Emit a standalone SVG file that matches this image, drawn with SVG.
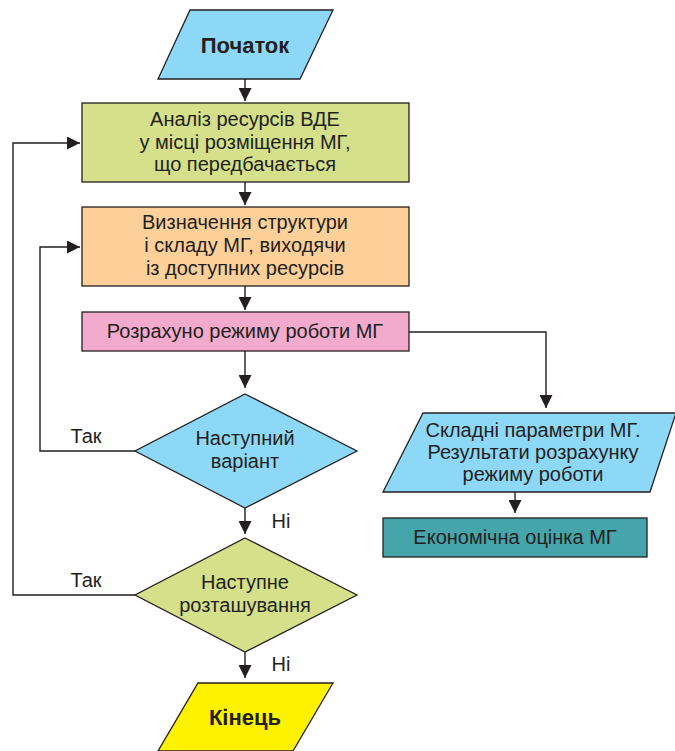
<svg xmlns="http://www.w3.org/2000/svg" width="675" height="751" viewBox="0 0 675 751">
<style>
.s{stroke:#231f20;stroke-width:1.3}
.t{font-family:"Liberation Sans",Arial,sans-serif;font-size:20px;fill:#231f20;text-anchor:middle}
.b{font-weight:bold;font-size:22px}
.l{stroke:#231f20;stroke-width:1.4;fill:none}
</style>
<defs>
<marker id="a" viewBox="0 0 10 10" refX="10" refY="5" markerWidth="13" markerHeight="13" markerUnits="userSpaceOnUse" orient="auto">
<path d="M0,0 L10,5 L0,10 Z" fill="#231f20"/>
</marker>
</defs>
<rect width="675" height="751" fill="#fff"/>
<g id="connectors">
<line class="l" x1="245" y1="79" x2="245" y2="101" marker-end="url(#a)"/>
<line class="l" x1="245" y1="182" x2="245" y2="205" marker-end="url(#a)"/>
<line class="l" x1="245" y1="286" x2="245" y2="310" marker-end="url(#a)"/>
<line class="l" x1="245" y1="351" x2="245" y2="388" marker-end="url(#a)"/>
<line class="l" x1="245" y1="508" x2="245" y2="534" marker-end="url(#a)"/>
<line class="l" x1="245" y1="652" x2="245" y2="678" marker-end="url(#a)"/>
<polyline class="l" points="409,332 546,332 546,408" marker-end="url(#a)"/>
<line class="l" x1="515" y1="492" x2="515" y2="513" marker-end="url(#a)"/>
<polyline class="l" points="135,451 40,451 40,247 80,247" marker-end="url(#a)"/>
<polyline class="l" points="135,595 13,595 13,143 80,143" marker-end="url(#a)"/>
<text class="t" x="86" y="443">Так</text>
<text class="t" x="86" y="587">Так</text>
<text class="t" x="281" y="528">Ні</text>
<text class="t" x="281" y="671">Ні</text>
</g>
<g id="start">
<polygon class="s" points="190,10 333,10 300,79 158,79" fill="#8dd8f6"/>
<text class="t b" x="245" y="53">Початок</text>
</g>
<g id="analysis">
<rect class="s" x="82" y="103" width="327" height="79" fill="#d4e08a"/>
<text class="t" x="245" y="126">Аналіз ресурсів ВДЕ</text>
<text class="t" x="245" y="149">у місці розміщення МГ,</text>
<text class="t" x="245" y="171">що передбачається</text>
</g>
<g id="structure">
<rect class="s" x="82" y="207" width="327" height="79" fill="#fdd09a"/>
<text class="t" x="245" y="229">Визначення структури</text>
<text class="t" x="245" y="252">і складу МГ, виходячи</text>
<text class="t" x="245" y="275">із доступних ресурсів</text>
</g>
<g id="calc">
<rect class="s" x="82" y="312" width="327" height="39" fill="#f2abcc"/>
<text class="t" x="245" y="338">Розрахуно режиму роботи МГ</text>
</g>
<g id="variant">
<polygon class="s" points="245,394 357,451 245,508 135,451" fill="#8dd8f6"/>
<text class="t" x="245" y="445">Наступний</text>
<text class="t" x="245" y="468">варіант</text>
</g>
<g id="location">
<polygon class="s" points="245,538 357,595 245,652 135,595" fill="#d4e08a"/>
<text class="t" x="245" y="589">Наступне</text>
<text class="t" x="245" y="612">розташування</text>
</g>
<g id="end">
<polygon class="s" points="198,683 333,683 293,751 158,751" fill="#fff200"/>
<text class="t b" x="245" y="725">Кінець</text>
</g>
<g id="params">
<polygon class="s" points="423,413 676,413 650,492 383,492" fill="#8dd8f6"/>
<text class="t" x="533" y="437">Складні параметри МГ.</text>
<text class="t" x="533" y="459">Результати розрахунку</text>
<text class="t" x="533" y="481">режиму роботи</text>
</g>
<g id="economic">
<rect class="s" x="383" y="518" width="264" height="39" fill="#45a5ab"/>
<text class="t" x="515" y="544">Економічна оцінка МГ</text>
</g>
</svg>
